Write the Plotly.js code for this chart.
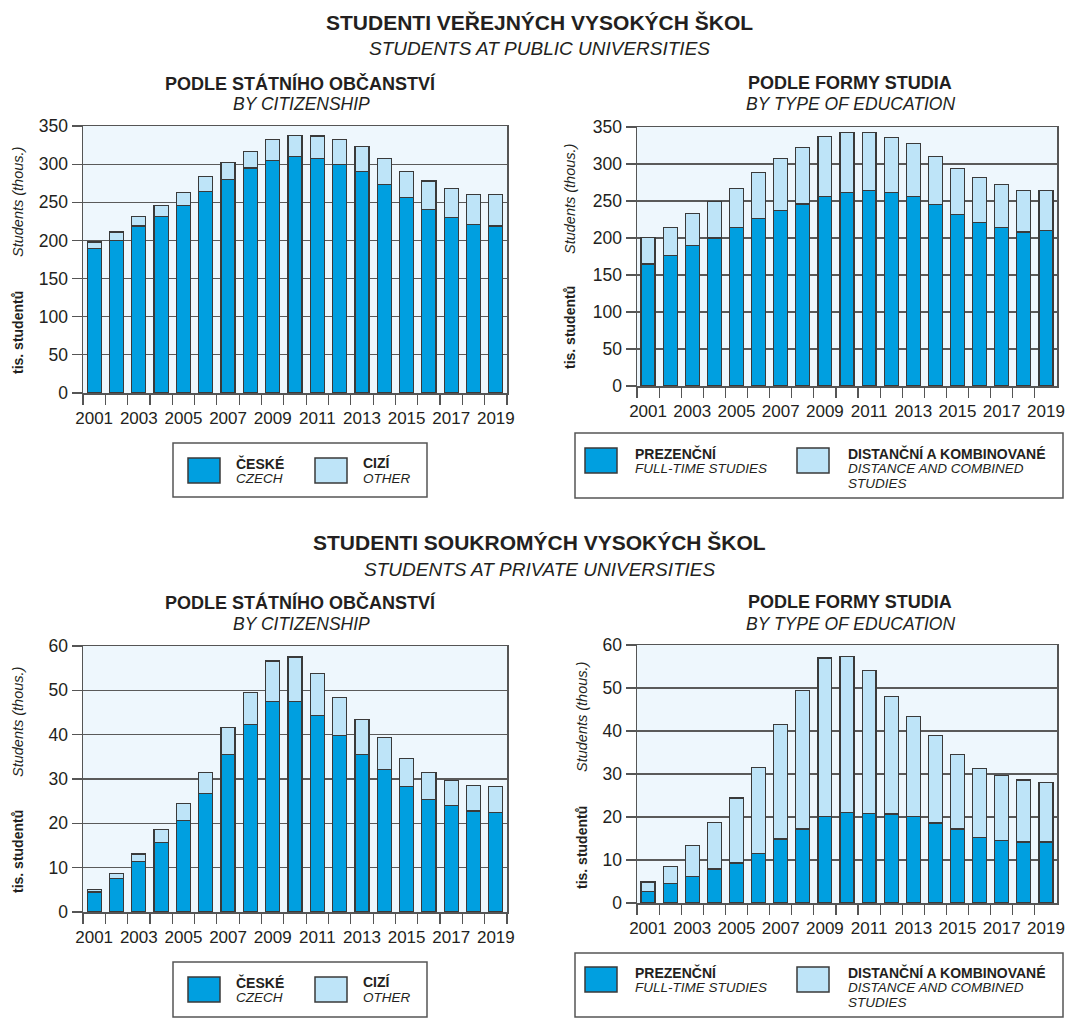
<!DOCTYPE html>
<html><head><meta charset="utf-8">
<script src="https://cdn.plot.ly/plotly-3.0.1.min.js"></script>
<style>html,body{margin:0;padding:0;background:#fff}#chart{width:1070px;height:1029px}</style>
</head><body><div id="chart"></div>
<script>
const years = ["2001","2002","2003","2004","2005","2006","2007","2008","2009","2010","2011","2012","2013","2014","2015","2016","2017","2018","2019"];
const yearLabels = ["2001","","2003","","2005","","2007","","2009","","2011","","2013","","2015","","2017","","2019"];

// Public universities, thousands
const publicCzech = [189,200,219,231,246,264,280,295,305,310,307,300,290,273,256,241,230,221,219];
const publicOther = [9,11,12,15,17,20,22,22,27,28,30,32,33,34,34,37,38,39,41];
const publicFullTime = [165,176,190,200,214,226,237,246,256,261,264,261,256,245,232,221,214,208,210];
const publicDistance = [36,38,43,49,53,62,70,76,81,82,79,75,72,65,62,61,58,56,54];

// Private universities, thousands
const privateCzech = [4.5,7.5,11.4,15.6,20.6,26.7,35.5,42.3,47.4,47.5,44.3,39.8,35.5,32.1,28.3,25.3,24.1,22.8,22.4];
const privateOther = [0.6,1.1,1.7,3.0,3.9,4.7,6.2,7.2,9.2,10.0,9.5,8.5,8.0,7.2,6.4,6.1,5.6,5.8,5.9];
const privateFullTime = [2.7,4.5,6.2,7.9,9.3,11.5,14.9,17.2,20.1,21.1,20.9,20.7,20.1,18.6,17.2,15.3,14.6,14.2,14.2];
const privateDistance = [2.2,4.0,7.1,10.8,15.1,20.0,26.7,32.3,36.9,36.2,33.2,27.4,23.3,20.4,17.4,16.0,15.1,14.4,13.9];

const citizenNames = [["ČESKÉ","CZECH"],["CIZÍ","OTHER"]];
const typeNames = [["PREZENČNÍ","FULL-TIME STUDIES"],["DISTANČNÍ A KOMBINOVANÉ","DISTANCE AND COMBINED","STUDIES"]];

const mainTitles = [["STUDENTI VEŘEJNÝCH VYSOKÝCH ŠKOL","STUDENTS AT PUBLIC UNIVERSITIES"],["STUDENTI SOUKROMÝCH VYSOKÝCH ŠKOL","STUDENTS AT PRIVATE UNIVERSITIES"]];
const subTitles = [["PODLE STÁTNÍHO OBČANSTVÍ","BY CITIZENSHIP"],["PODLE FORMY STUDIA","BY TYPE OF EDUCATION"]];
const yTitle = ["tis. studentů","Students (thous.)"];

const W = 1070, H = 1029;
const px = x => x / W;
const py = y => 1 - y / H;
const FONT = "Liberation Sans, Arial, sans-serif";
const TXT = "#231f20";
const DARK = "#009fe0", LIGHT = "#bee4f8", EDGE = "#3a3a3a";

function barPair(a, b, names, xa, ya) {
  return [
    {type:"bar", x:years, y:a, name:names[0][0], xaxis:xa, yaxis:ya, showlegend:false,
     marker:{color:DARK, line:{color:EDGE, width:1.2}}},
    {type:"bar", x:years, y:b, name:names[1][0], xaxis:xa, yaxis:ya, showlegend:false,
     marker:{color:LIGHT, line:{color:EDGE, width:1.2}}}
  ];
}

const data = [].concat(
  barPair(publicCzech, publicOther, citizenNames, "x", "y"),
  barPair(publicFullTime, publicDistance, typeNames, "x2", "y2"),
  barPair(privateCzech, privateOther, citizenNames, "x3", "y3"),
  barPair(privateFullTime, privateDistance, typeNames, "x4", "y4")
);

// plot boxes in pixels [left, right, top, bottom]
const boxes = [[83,507,126,393],[637,1057,127,386],[83,507,646,912],[637,1057,645,903]];
const yRanges = [[0,350,50],[0,350,50],[0,60,10],[0,60,10]];

const layout = {
  width: W, height: H,
  margin: {l:0, r:0, t:0, b:0},
  paper_bgcolor: "#ffffff",
  plot_bgcolor: "#eef7fd",
  barmode: "stack",
  bargap: 0.37,
  font: {family: FONT, color: TXT, size: 17},
  annotations: [],
  shapes: []
};

boxes.forEach((b, i) => {
  const n = i === 0 ? "" : String(i + 1);
  layout["xaxis" + n] = {
    domain: [px(b[0]), px(b[1])], anchor: "y" + n, type: "category",
    tickmode: "array", tickvals: years, ticktext: yearLabels, tickson: "boundaries",
    tickangle: 0, ticklabelstandoff: 9,
    ticks: "outside", ticklen: 10, tickcolor: "#555", tickwidth: 1.2,
    showline: true, mirror: true, linecolor: "#555", linewidth: 1.5,
    showgrid: false, zeroline: false, fixedrange: true,
    tickfont: {family: FONT, size: 17, color: TXT}
  };
  layout["yaxis" + n] = {
    domain: [py(b[3]), py(b[2])], anchor: "x" + n,
    range: [yRanges[i][0], yRanges[i][1]], dtick: yRanges[i][2], tick0: 0,
    ticks: "outside", ticklen: 10, tickcolor: "#555", tickwidth: 1.2,
    showline: true, mirror: true, linecolor: "#555", linewidth: 1.5,
    showgrid: true, gridcolor: "#5a5a5a", gridwidth: 1.2, zeroline: false, fixedrange: true,
    tickfont: {family: FONT, size: 17.5, color: TXT}
  };
});

// Titles
const A = layout.annotations;
function txt(x, y, text, opts) {
  A.push(Object.assign({xref:"paper", yref:"paper", x:px(x), y:py(y), text:text, showarrow:false,
    xanchor:"center", yanchor:"middle", font:{family:FONT, size:16, color:TXT}}, opts || {}));
}
[[22,48,83,104],[542,569,602,624]].forEach((r, k) => {
  txt(540, r[0], "<b>" + mainTitles[k][0] + "</b>", {font:{family:FONT, size:21, color:TXT}});
  txt(540, r[1], "<i>" + mainTitles[k][1] + "</i>", {font:{family:FONT, size:19, color:TXT}});
  txt(300, r[2], "<b>" + subTitles[0][0] + "</b>", {font:{family:FONT, size:18, color:TXT}});
  txt(301, r[3], "<i>" + subTitles[0][1] + "</i>", {font:{family:FONT, size:17.5, color:TXT}});
  txt(850, r[2], "<b>" + subTitles[1][0] + "</b>", {font:{family:FONT, size:18, color:TXT}});
  txt(850, r[3], "<i>" + subTitles[1][1] + "</i>", {font:{family:FONT, size:17.5, color:TXT}});
});

// Y axis titles: [x, italic centre y, bold centre y]
[[18,202,333],[570,199,328],[18,722,852],[582,717,848]].forEach(p => {
  txt(p[0], p[2], "<b>" + yTitle[0] + "</b>", {textangle:-90, font:{family:FONT, size:14, color:TXT}});
  txt(p[0], p[1], "<i>" + yTitle[1] + "</i>", {textangle:-90, font:{family:FONT, size:14.5, color:TXT}});
});

// Legends (drawn boxes)
const S = layout.shapes;
function rect(x0, y0, x1, y1, fill, line, lw) {
  S.push({type:"rect", xref:"paper", yref:"paper", x0:px(x0), x1:px(x1), y0:py(y1), y1:py(y0),
    fillcolor:fill, line:{color:line, width:lw}});
}
function legend(box, sw1x, sw2x, swy, tx1, tx2, names, ty) {
  rect(box[0], box[1], box[2], box[3], "rgba(0,0,0,0)", "#555", 1.5);
  rect(sw1x, swy, sw1x + 32, swy + 25, DARK, EDGE, 1.5);
  rect(sw2x, swy, sw2x + 32, swy + 25, LIGHT, EDGE, 1.5);
  [[tx1, names[0]], [tx2, names[1]]].forEach(t => {
    t[1].forEach((line, j) => {
      const isBold = j === 0;
      txt(t[0], ty + 15 * j, isBold ? "<b>" + line + "</b>" : "<i>" + line + "</i>",
        {xanchor:"left", yanchor:"middle", align:"left",
         font:{family:FONT, size: isBold ? 14 : 13.5, color:TXT}});
    });
  });
}
legend([173,443,427,497], 188, 315, 458, 234, 361, citizenNames, 463);
legend([575,433,1063,498], 585, 797, 448, 633, 846, typeNames, 453);
legend([173,962,427,1017], 188, 315, 977, 234, 361, citizenNames, 982);
legend([575,953,1063,1017], 585, 797, 967, 633, 846, typeNames, 972);

Plotly.newPlot("chart", data, layout, {displayModeBar:false, staticPlot:true});
</script>
</body></html>
